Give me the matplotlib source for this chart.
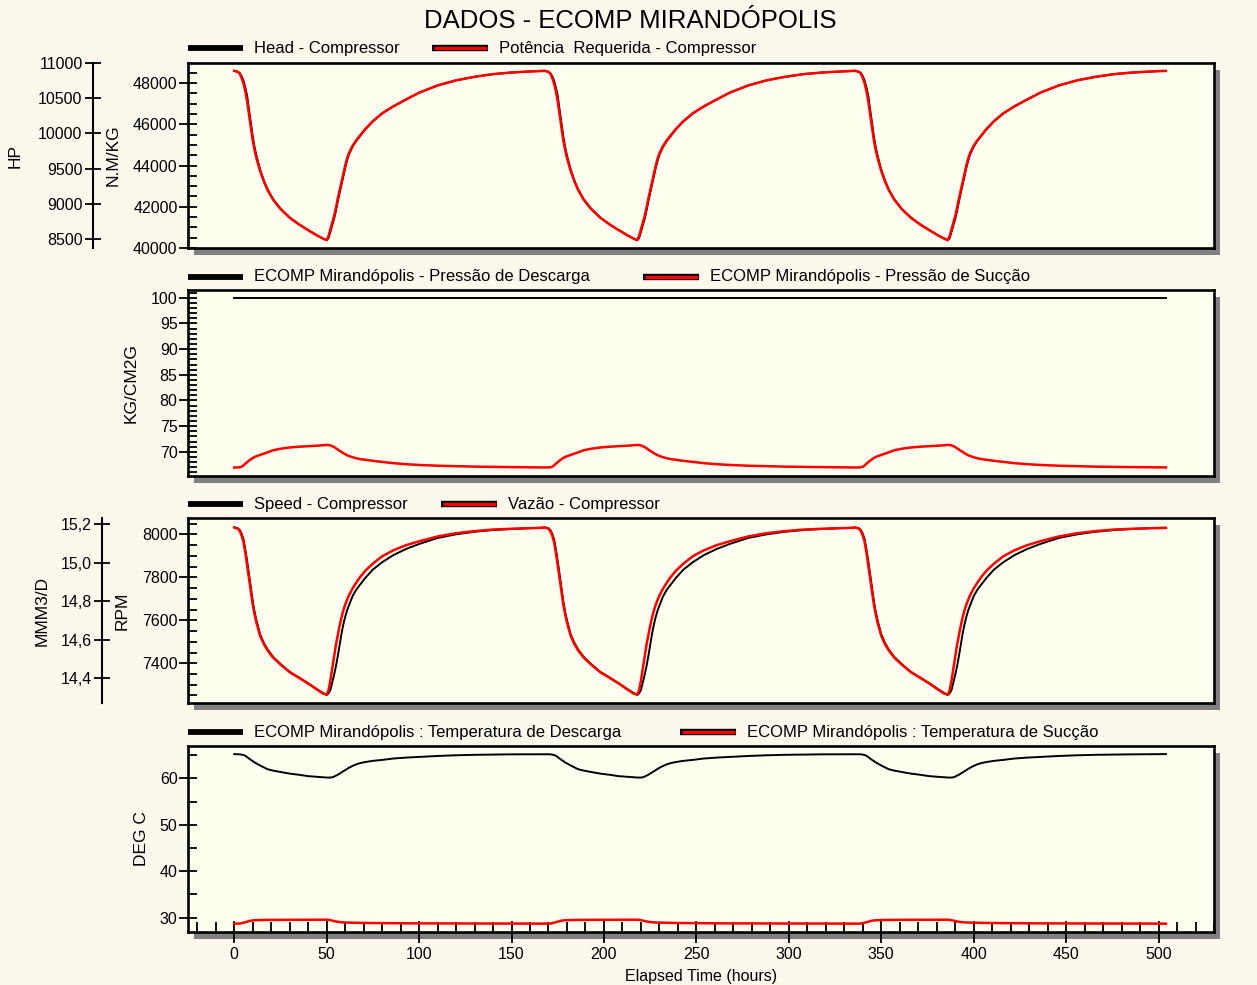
import matplotlib
matplotlib.use("Agg")
import matplotlib.pyplot as plt
from matplotlib.patches import Rectangle
from matplotlib.lines import Line2D
from matplotlib.ticker import MultipleLocator, FixedLocator, FixedFormatter

plt.rcParams['font.family'] = ['Liberation Sans', 'DejaVu Sans']

# ---------------------------------------------------------------------------
# Data: one weekly operating cycle (hours from start of the week); the same
# schedule is run for three consecutive weeks.
# ---------------------------------------------------------------------------
week_length = 168
n_weeks = 3
week_hours = [0, 2, 3, 4, 5, 6, 7, 8, 9, 10,
              11, 12, 14, 16, 18, 21, 25, 30, 35, 40,
              45, 48, 50, 51, 52, 53, 54, 55, 56, 57,
              58, 59, 60, 61, 62, 64, 66, 68, 71, 75,
              80, 86, 93, 100, 110, 120, 130, 140, 150, 160,
              166]

head_week = [48590, 48540, 48480, 48330, 48120, 47780, 47380, 46700, 46080, 45420,
             44900, 44480, 43800, 43280, 42850, 42370, 41910, 41480, 41150, 40870,
             40600, 40460, 40370, 40480, 40780, 41100, 41400, 41800, 42250, 42660,
             43080, 43500, 43880, 44230, 44520, 44910, 45190, 45420, 45760, 46140,
             46520, 46860, 47200, 47530, 47880, 48130, 48300, 48430, 48510, 48560,
             48585]
power_week = [10889, 10874, 10847, 10788, 10711, 10600, 10455, 10265, 10085, 9905,
              9765, 9650, 9466, 9320, 9198, 9060, 8927, 8802, 8707, 8625,
              8547, 8506, 8485, 8540, 8636, 8730, 8822, 8940, 9072, 9190,
              9313, 9433, 9539, 9640, 9717, 9823, 9903, 9968, 10066, 10175,
              10285, 10384, 10483, 10578, 10681, 10754, 10804, 10842, 10865, 10880,
              10887]
p_discharge_week = [99.9] * len(week_hours)
p_suction_week = [66.95, 66.97, 67.0, 67.1, 67.35, 67.7, 68.0, 68.3, 68.55, 68.8,
                  69.0, 69.15, 69.4, 69.65, 69.9, 70.3, 70.6, 70.85, 71.0, 71.1,
                  71.2, 71.3, 71.35, 71.33, 71.25, 71.1, 70.95, 70.7, 70.45, 70.2,
                  70.0, 69.75, 69.55, 69.35, 69.2, 68.95, 68.75, 68.6, 68.45, 68.25,
                  68.05, 67.8, 67.6, 67.45, 67.3, 67.2, 67.12, 67.07, 67.03, 67.0,
                  66.97]
speed_week = [8032, 8028, 8020, 8003, 7978, 7930, 7875, 7812, 7752, 7690,
              7640, 7600, 7535, 7495, 7465, 7430, 7397, 7360, 7334, 7307,
              7278, 7262, 7252, 7260, 7275, 7310, 7345, 7385, 7432, 7485,
              7536, 7580, 7615, 7645, 7668, 7712, 7742, 7765, 7798, 7836,
              7870, 7903, 7932, 7955, 7983, 8000, 8012, 8020, 8025, 8029,
              8030]
flow_week = [15.184, 15.177, 15.165, 15.142, 15.109, 15.053, 14.986, 14.916, 14.852, 14.785,
             14.733, 14.690, 14.621, 14.578, 14.546, 14.508, 14.472, 14.432, 14.403, 14.373,
             14.340, 14.321, 14.316, 14.338, 14.388, 14.450, 14.511, 14.573, 14.623, 14.673,
             14.715, 14.752, 14.782, 14.807, 14.830, 14.867, 14.897, 14.925, 14.960, 14.996,
             15.034, 15.065, 15.092, 15.112, 15.137, 15.154, 15.165, 15.173, 15.177, 15.180,
             15.182]
t_discharge_week = [65.25, 65.22, 65.2, 65.15, 65.05, 64.9, 64.6, 64.3, 64.0, 63.75,
                    63.45, 63.25, 62.8, 62.4, 62.0, 61.7, 61.4, 61.05, 60.8, 60.5,
                    60.35, 60.25, 60.2, 60.2, 60.2, 60.25, 60.4, 60.6, 60.8, 61.05,
                    61.3, 61.55, 61.8, 62.05, 62.3, 62.7, 63.05, 63.3, 63.55, 63.8,
                    64.0, 64.3, 64.5, 64.65, 64.85, 65.0, 65.1, 65.15, 65.2, 65.22,
                    65.25]
t_suction_week = [28.7, 28.7, 28.72, 28.8, 28.9, 29.0, 29.12, 29.25, 29.33, 29.4,
                  29.43, 29.45, 29.48, 29.5, 29.5, 29.5, 29.52, 29.53, 29.54, 29.55,
                  29.55, 29.55, 29.55, 29.52, 29.45, 29.35, 29.25, 29.17, 29.1, 29.05,
                  29.0, 28.97, 28.95, 28.93, 28.92, 28.9, 28.88, 28.87, 28.85, 28.83,
                  28.8, 28.79, 28.77, 28.76, 28.75, 28.74, 28.73, 28.72, 28.71, 28.7,
                  28.7]

flow_ticks = [14.4, 14.6, 14.8, 15.0, 15.2]
flow_tick_labels = ["14,4", "14,6", "14,8", "15,0", "15,2"]

title = "DADOS - ECOMP MIRANDÓPOLIS"
legend_texts = [
    ("Head - Compressor", "Potência  Requerida - Compressor"),
    ("ECOMP Mirandópolis - Pressão de Descarga",
     "ECOMP Mirandópolis - Pressão de Sucção"),
    ("Speed - Compressor", "Vazão - Compressor"),
    ("ECOMP Mirandópolis : Temperatura de Descarga",
     "ECOMP Mirandópolis : Temperatura de Sucção"),
]


def full_series(week_values):
    """Three identical weeks plus the closing reading at the end."""
    return week_values * n_weeks + [week_values[-1]]


hours = [h + week_length * w for w in range(n_weeks) for h in week_hours]
hours.append(week_length * n_weeks)

head = full_series(head_week)
power = full_series(power_week)
p_discharge = full_series(p_discharge_week)
p_suction = full_series(p_suction_week)
speed = full_series(speed_week)
flow = full_series(flow_week)
t_discharge = full_series(t_discharge_week)
t_suction = full_series(t_suction_week)

# ---------------------------------------------------------------------------
# Layout (pixel geometry of a 1257 x 985 canvas)
# ---------------------------------------------------------------------------
W, H = 1257, 985
FIG_BG = "#FCF8EE"
AX_BG = "#FFFFF0"
SHADOW = "#808080"
LEFT, RIGHT = 188, 1214
panel_rows = [(63, 248), (290, 476), (518, 703), (746, 932)]
legend_rows = [48, 277, 504, 732]
legend_red_x = [432, 643, 441, 680]
FS = 11.5
LEG_FS = 12

fig = plt.figure(figsize=(W / 100, H / 100), dpi=100, facecolor=FIG_BG)


def px_x(x):
    return x / W


def px_y(y):
    return 1 - y / H


axes = []
for top, bottom in panel_rows:
    rect = [px_x(LEFT), px_y(bottom), (RIGHT - LEFT) / W, (bottom - top) / H]
    shadow = Rectangle((px_x(LEFT + 6), px_y(bottom + 7)),
                       (RIGHT - LEFT) / W, (bottom - top) / H,
                       transform=fig.transFigure, facecolor=SHADOW,
                       edgecolor="none", zorder=-1)
    fig.add_artist(shadow)
    ax = fig.add_axes(rect)
    ax.set_facecolor(AX_BG)
    ax.set_xlim(-25, 530)
    for s in ax.spines.values():
        s.set_linewidth(1.9)
    ax.tick_params(axis="x", which="both", bottom=False, top=False,
                   labelbottom=False)
    ax.tick_params(axis="y", which="major", direction="inout", length=13,
                   width=1.3, labelsize=FS, pad=1, right=False)
    ax.tick_params(axis="y", which="minor", direction="in", length=6.5,
                   width=1.3, right=False)
    axes.append(ax)


def outer_axis(ax, offset):
    tw = ax.twinx()
    for side in ("right", "top", "bottom"):
        tw.spines[side].set_visible(False)
    tw.spines["left"].set_visible(True)
    tw.spines["left"].set_position(("axes", offset))
    tw.spines["left"].set_linewidth(1.5)
    tw.yaxis.set_ticks_position("left")
    tw.yaxis.set_label_position("left")
    tw.tick_params(axis="y", which="major", direction="inout", length=11,
                   width=1.3, labelsize=FS, pad=2)
    tw.tick_params(axis="y", which="minor", left=False, right=False)
    return tw


def label_pos(x_px):
    return (x_px - LEFT) / (RIGHT - LEFT)


BLACK_LW = 1.4
RED_LW = 1.8

# Panel 1: head and required power
ax = axes[0]
ax.set_ylim(40000, 48970)
ax.yaxis.set_major_locator(MultipleLocator(2000))
ax.yaxis.set_minor_locator(MultipleLocator(500))
ax.plot(hours, head, color="black", lw=BLACK_LW)
ax.set_ylabel("N.M/KG", fontsize=12.5, va="center")
ax.yaxis.set_label_coords(label_pos(113), 0.5)
tw = outer_axis(ax, label_pos(93))
tw.set_ylim(8372, 11000)
tw.yaxis.set_major_locator(MultipleLocator(500))
tw.plot(hours, power, color="#FF0000", lw=RED_LW)
tw.set_ylabel("HP", fontsize=12.5, va="center")
tw.yaxis.set_label_coords(label_pos(15), 0.5)

# Panel 2: discharge and suction pressure
ax = axes[1]
ax.set_ylim(65.3, 101.5)
ax.yaxis.set_major_locator(MultipleLocator(5))
ax.yaxis.set_minor_locator(MultipleLocator(1))
ax.plot(hours, p_discharge, color="black", lw=BLACK_LW)
ax.plot(hours, p_suction, color="#FF0000", lw=RED_LW)
ax.set_ylabel("KG/CM2G", fontsize=12.5, va="center")
ax.yaxis.set_label_coords(label_pos(131), 0.5)

# Panel 3: speed and flow
ax = axes[2]
ax.set_ylim(7215, 8076)
ax.yaxis.set_major_locator(MultipleLocator(200))
ax.yaxis.set_minor_locator(MultipleLocator(50))
ax.plot(hours, speed, color="black", lw=BLACK_LW)
ax.set_ylabel("RPM", fontsize=12.5, va="center")
ax.yaxis.set_label_coords(label_pos(122), 0.5)
tw = outer_axis(ax, label_pos(102))
tw.set_ylim(14.272, 15.233)
tw.yaxis.set_major_locator(FixedLocator(flow_ticks))
tw.yaxis.set_major_formatter(FixedFormatter(flow_tick_labels))
tw.plot(hours, flow, color="#FF0000", lw=RED_LW)
tw.set_ylabel("MMM3/D", fontsize=12.5, va="center")
tw.yaxis.set_label_coords(label_pos(42), 0.5)

# Panel 4: discharge and suction temperature
ax = axes[3]
ax.set_ylim(26.9, 67)
ax.yaxis.set_major_locator(MultipleLocator(10))
ax.yaxis.set_minor_locator(MultipleLocator(5))
ax.plot(hours, t_discharge, color="black", lw=BLACK_LW)
ax.plot(hours, t_suction, color="#FF0000", lw=RED_LW)
ax.set_ylabel("DEG C", fontsize=12.5, va="center")
ax.yaxis.set_label_coords(label_pos(142), 0.5)
ax.xaxis.set_major_locator(MultipleLocator(50))
ax.xaxis.set_minor_locator(MultipleLocator(10))
ax.tick_params(axis="x", which="major", bottom=True, labelbottom=True,
               direction="inout", length=16, width=1.3, labelsize=FS, pad=3)
ax.tick_params(axis="x", which="minor", bottom=True, direction="in",
               length=7.2, width=1.3)
ax.set_xlabel("Elapsed Time (hours)", fontsize=FS, labelpad=5)

# Legends above each panel
for (black_txt, red_txt), y, rx in zip(legend_texts, legend_rows, legend_red_x):
    yy = px_y(y)
    fig.add_artist(Line2D([px_x(188), px_x(243)], [yy, yy], color="black",
                          lw=4.2, solid_capstyle="butt"))
    fig.text(px_x(254), yy, black_txt, fontsize=LEG_FS, ha="left", va="center")
    fig.add_artist(Line2D([px_x(rx), px_x(rx + 56)], [yy, yy], color="black",
                          lw=4.6, solid_capstyle="butt"))
    fig.add_artist(Line2D([px_x(rx + 1.5), px_x(rx + 54.5)], [yy, yy],
                          color="#FF0000", lw=2.4, solid_capstyle="butt"))
    fig.text(px_x(rx + 67), yy, red_txt, fontsize=LEG_FS, ha="left", va="center")

fig.text(px_x(630), px_y(21), title, fontsize=18.5, ha="center", va="center")

fig.savefig("out.png", dpi=100, facecolor=FIG_BG)
